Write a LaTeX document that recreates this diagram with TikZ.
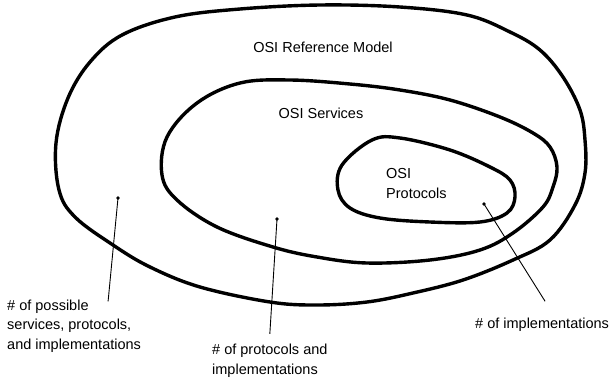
\documentclass[tikz,border=0pt]{standalone}
\usepackage{fontspec}
\setmainfont{Liberation Sans}
\begin{document}
\begin{tikzpicture}[x=1pt, y=-1pt,
  loopline/.style={line width=3.4pt, line join=round},
  leader/.style={line width=0.9pt},
  spot/.style={circle, fill, inner sep=1.3pt},
  lbl/.style={inner sep=0pt, align=left, font=\fontsize{14.5}{19.5}\selectfont}]
  \useasboundingbox (0,0) rectangle (614,381);
  % Loops
  \draw[loopline] plot[smooth cycle, tension=0.6] coordinates {(320,5) (400,7) (467,15) (510,32) (540,50) (563,77) (580,110) (585,140) (585,173) (575,205) (550,240) (513,260) (463,280) (413,293) (367,302) (317,305) (270,302) (200,287) (150,267) (113,245) (75,217) (59,190) (56,143) (68,98) (90,62) (122,35) (175,17) (240,9)};
  \draw[loopline] plot[smooth cycle, tension=0.6] coordinates {(240,83) (290,80) (350,84) (400,90) (450,100) (500,117) (533,133) (550,147) (557,167) (553,187) (543,207) (513,233) (480,250) (430,260) (367,263) (317,257) (273,247) (217,227) (177,200) (162,175) (167,137) (197,103)};
  \draw[loopline] plot[smooth cycle, tension=0.6] coordinates {(372,140) (400,138) (450,150) (490,167) (510,180) (515,197) (507,213) (480,222) (430,222) (380,218) (350,208) (338,190) (342,165)};
  % Nodes
  \node (model) [lbl, anchor=base] at (323,52) {OSI Reference Model};
  \node (services) [lbl, anchor=base] at (321,118) {OSI Services};
  \node (protocols) [lbl, anchor=base west] at (386,198) {OSI\\Protocols};
  \node (possible) [lbl, anchor=base west] at (7,349) {\# of possible\\services, protocols,\\and implementations};
  \node (protoimpl) [lbl, anchor=base west] at (212,374) {\# of protocols and\\implementations};
  \node (impl) [lbl, anchor=base west] at (475,328) {\# of implementations};
  \node (spotA) [spot] at (118,198) {};
  \node (spotB) [spot] at (277,219) {};
  \node (spotC) [spot] at (484,204) {};
  % Leaders
  \draw[leader] (spotA.center) -- ([xshift=34pt, yshift=-2pt]possible.north);
  \draw[leader] (spotB.center) -- ([yshift=10pt]protoimpl.north);
  \draw[leader] (spotC.center) -- ([xshift=3pt, yshift=16pt]impl.north);
\end{tikzpicture}
\end{document}
